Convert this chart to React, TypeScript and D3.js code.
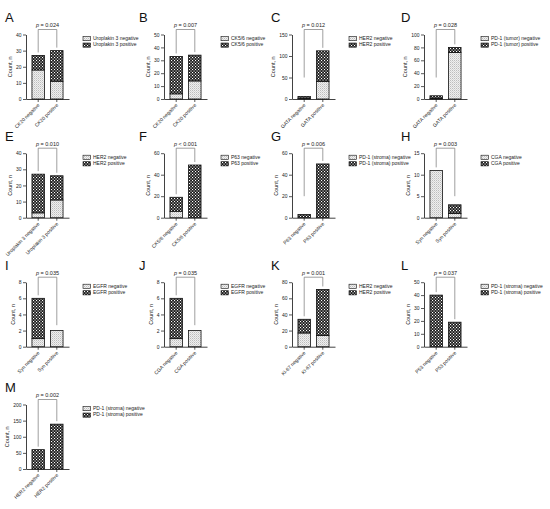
import { useEffect, useRef } from 'react'
import * as d3 from 'd3'

const PANEL_LETTERS = ['A', 'B', 'C', 'D', 'E', 'F', 'G', 'H', 'I', 'J', 'K', 'L', 'M']

const CATEGORIES: [string, string][] = [
  ['CK20 negative', 'CK20 positive'],
  ['CK20 negative', 'CK20 positive'],
  ['GATA negative', 'GATA positive'],
  ['GATA negative', 'GATA positive'],
  ['Uroplakin 3 negative', 'Uroplakin 3 positive'],
  ['CK5/6 negative', 'CK5/6 positive'],
  ['P63 negative', 'P63 positive'],
  ['Syn negative', 'Syn positive'],
  ['Syn negative', 'Syn positive'],
  ['CGA negative', 'CGA positive'],
  ['Ki-67 negative', 'Ki-67 positive'],
  ['P53 negative', 'P53 positive'],
  ['HER2 negative', 'HER2 positive'],
]

const MARKERS = [
  'Uroplakin 3', 'CK5/6', 'HER2', 'PD-1 (tumor)',
  'HER2', 'P63', 'PD-1 (stroma)', 'CGA',
  'EGFR', 'EGFR', 'HER2', 'PD-1 (stroma)',
  'PD-1 (stroma)',
]

// counts per panel: [first category, second category]
const NEGATIVE_COUNTS = [
  [18, 11], [4, 14], [1, 41], [1, 72],
  [3, 11], [6, 0], [0, 0], [11, 1],
  [1, 2], [1, 2], [17, 14], [0, 0],
  [0, 0],
]
const POSITIVE_COUNTS = [
  [9, 19], [29, 20], [5, 71], [4, 8],
  [24, 15], [13, 49], [3, 50], [0, 2],
  [5, 0], [5, 0], [17, 57], [40, 19],
  [60, 139],
]

const Y_MAX = [40, 50, 150, 100, 40, 60, 60, 15, 8, 8, 80, 50, 200]
const Y_STEP = [10, 10, 50, 20, 10, 20, 20, 5, 2, 2, 20, 10, 50]

const P_LABELS = [
  '0.024', '0.007', '0.012', '0.028',
  '0.010', '< 0.001', '0.006', '0.003',
  '0.035', '0.035', '0.001', '0.037',
  '0.002',
]

// layout of the 4-column grid
const COL_AXIS_X = [26, 164, 292, 424]
const COL_LETTER_X = [5, 139, 271, 401]
const ROW_ZERO_Y = [99, 217.7, 346.7, 469]
const PLOT_H = 64.5
const FONT = '"Liberation Sans", Arial, Helvetica, sans-serif'

export default function App() {
  const svgRef = useRef<SVGSVGElement>(null)

  useEffect(() => {
    const svgEl = svgRef.current
    if (!svgEl) return
    const svg = d3.select(svgEl)
    svg.selectAll('*').remove()

    const defs = svg.append('defs')
    const neg = defs.append('pattern')
      .attr('id', 'pat-neg').attr('patternUnits', 'userSpaceOnUse')
      .attr('width', 2).attr('height', 2)
    neg.append('rect').attr('width', 2).attr('height', 2).attr('fill', '#efefef')
    neg.append('rect').attr('width', 1).attr('height', 1).attr('fill', '#bdbdbd')
    neg.append('rect').attr('x', 1).attr('y', 1).attr('width', 1).attr('height', 1).attr('fill', '#d6d6d6')

    const pos = defs.append('pattern')
      .attr('id', 'pat-pos').attr('patternUnits', 'userSpaceOnUse')
      .attr('width', 3).attr('height', 3)
    pos.append('rect').attr('width', 3).attr('height', 3).attr('fill', '#1c1c1c')
    pos.append('rect').attr('width', 1.1).attr('height', 1.1).attr('fill', '#fff')
    pos.append('rect').attr('x', 1.5).attr('y', 1.5).attr('width', 1.1).attr('height', 1.1).attr('fill', '#fff')

    PANEL_LETTERS.forEach((letter, i) => {
      const col = i % 4
      const row = Math.floor(i / 4)
      const ax = COL_AXIS_X[col]
      const zero = ROW_ZERO_Y[row]
      const g = svg.append('g')

      // panel letter
      g.append('text')
        .attr('x', COL_LETTER_X[col]).attr('y', zero - 77)
        .style('font-family', FONT).style('font-size', '13px')
        .attr('fill', '#111')
        .text(letter)

      const y = d3.scaleLinear().domain([0, Y_MAX[i]]).range([zero, zero - PLOT_H])
      const x = d3.scaleBand<string>().domain(CATEGORIES[i])
        .range([ax, ax + 43]).paddingInner(0.33).paddingOuter(0.32)

      // y axis
      const ticks = d3.range(0, Y_MAX[i] + 1e-9, Y_STEP[i])
      const yAxisG = g.append('g').attr('transform', `translate(${ax},0)`)
        .call(d3.axisLeft(y).tickValues(ticks).tickSize(3).tickSizeOuter(0).tickPadding(1.5))
      yAxisG.select('.domain').attr('stroke', '#111').attr('stroke-width', 0.8)
      yAxisG.selectAll('.tick line').attr('stroke', '#111').attr('stroke-width', 0.7)
      yAxisG.selectAll('.tick text')
        .attr('fill', '#222')
        .style('font-size', '5px')
        .style('font-family', FONT)

      const maxChars = d3.max(ticks, t => String(t).length) ?? 1
      g.append('text')
        .attr('transform', `translate(${ax - 11 - (maxChars - 1) * 2.8},${zero - PLOT_H / 2}) rotate(-90)`)
        .attr('text-anchor', 'middle')
        .attr('fill', '#222')
        .style('font-size', '5.5px')
        .style('font-family', FONT)
        .text('Count, n')

      // x axis
      const xAxisG = g.append('g').attr('transform', `translate(0,${zero})`)
        .call(d3.axisBottom(x).tickSize(3).tickSizeOuter(0))
      xAxisG.select('.domain').attr('stroke', '#111').attr('stroke-width', 0.8)
      xAxisG.selectAll('.tick line').attr('stroke', '#111').attr('stroke-width', 0.7)
      xAxisG.selectAll('.tick text')
        .attr('x', 0).attr('y', 0).attr('dy', 0)
        .attr('transform', 'translate(1.8,6.5) rotate(-45)')
        .attr('text-anchor', 'end')
        .attr('fill', '#222')
        .style('font-size', '5px')
        .style('font-family', FONT)

      // stacked bars
      const tops: number[] = []
      CATEGORIES[i].forEach((cat, k) => {
        const n = NEGATIVE_COUNTS[i][k]
        const p = POSITIVE_COUNTS[i][k]
        const bx = x(cat) ?? 0
        const bw = x.bandwidth()
        if (n > 0) {
          g.append('rect')
            .attr('x', bx).attr('y', y(n)).attr('width', bw).attr('height', y(0) - y(n))
            .attr('fill', 'url(#pat-neg)').attr('stroke', '#111').attr('stroke-width', 0.8)
        }
        if (p > 0) {
          g.append('rect')
            .attr('x', bx).attr('y', y(n + p)).attr('width', bw).attr('height', y(n) - y(n + p))
            .attr('fill', 'url(#pat-pos)').attr('stroke', '#111').attr('stroke-width', 0.8)
        }
        tops.push(y(n + p))
      })

      // significance bracket
      const by = zero - PLOT_H - 5
      const c0 = (x(CATEGORIES[i][0]) ?? 0) + x.bandwidth() / 2
      const c1 = (x(CATEGORIES[i][1]) ?? 0) + x.bandwidth() / 2
      const end0 = Math.min(tops[0] - 3, by + 48)
      const end1 = Math.min(tops[1] - 3, by + 48)
      g.append('path')
        .attr('d', `M${c0},${end0}V${by}H${c1}V${end1}`)
        .attr('fill', 'none').attr('stroke', '#777').attr('stroke-width', 0.7)
      const pt = g.append('text')
        .attr('x', (c0 + c1) / 2).attr('y', by - 2.5)
        .attr('text-anchor', 'middle')
        .attr('fill', '#222')
        .style('font-size', '5.5px')
        .style('font-family', FONT)
      pt.append('tspan').style('font-style', 'italic').text('p')
      pt.append('tspan').text(P_LABELS[i].startsWith('<') ? ` ${P_LABELS[i]}` : ` = ${P_LABELS[i]}`)

      // legend
      const lx = ax + 57
      ;['negative', 'positive'].forEach((kind, k) => {
        const ly = zero - 62.5 + k * 6.5
        g.append('rect')
          .attr('x', lx).attr('y', ly).attr('width', 7.5).attr('height', 4.2)
          .attr('fill', k === 0 ? 'url(#pat-neg)' : 'url(#pat-pos)')
          .attr('stroke', '#111').attr('stroke-width', 0.6)
        g.append('text')
          .attr('x', lx + 10).attr('y', ly + 2.1)
          .attr('dominant-baseline', 'middle')
          .attr('fill', '#222')
          .style('font-size', '5px')
          .style('font-family', FONT)
          .text(`${MARKERS[i]} ${kind}`)
      })
    })
  }, [])

  return (
    <svg
      ref={svgRef}
      width={550}
      height={509}
      style={{ position: 'absolute', left: 0, top: 0, background: '#fff' }}
    />
  )
}
